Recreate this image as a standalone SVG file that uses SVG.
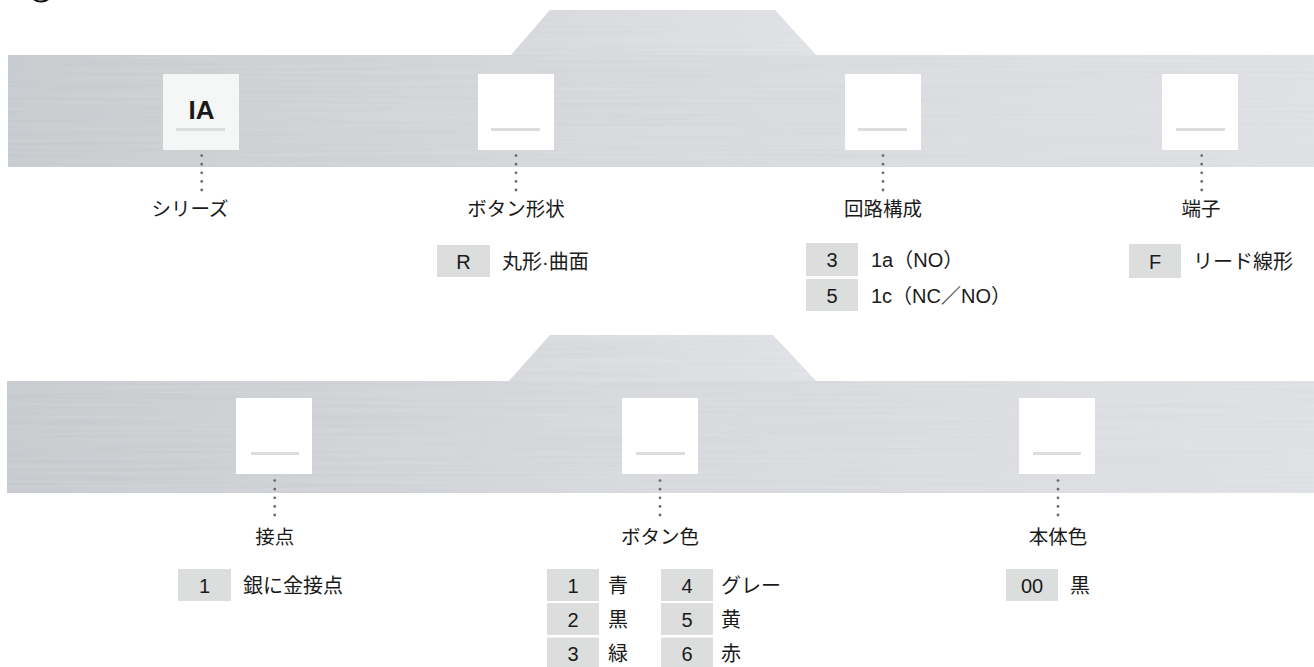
<svg xmlns="http://www.w3.org/2000/svg" width="1314" height="667" viewBox="0 0 1314 667">
<defs>
<linearGradient id="metal" x1="0" y1="0" x2="1" y2="0">
<stop offset="0" stop-color="#c3c6ca"/>
<stop offset="0.45" stop-color="#d3d5d9"/>
<stop offset="1" stop-color="#dcdee1"/>
</linearGradient>
<linearGradient id="metalTop" x1="0" y1="0" x2="1" y2="0">
<stop offset="0" stop-color="#d3d5d8"/>
<stop offset="1" stop-color="#dddfe2"/>
</linearGradient>
<filter id="brush" x="0" y="0" width="1" height="1">
<feTurbulence type="fractalNoise" baseFrequency="0.004 0.35" numOctaves="2" seed="3" result="n"/>
<feColorMatrix in="n" type="matrix" values="0 0 0 0 1  0 0 0 0 1  0 0 0 0 1  0 0 0 0.18 0" result="w"/>
<feComposite in="w" in2="SourceGraphic" operator="in" result="wm"/>
<feMerge><feMergeNode in="SourceGraphic"/><feMergeNode in="wm"/></feMerge>
</filter>
<style>
text{font-family:"Liberation Sans","Noto Sans CJK JP",sans-serif;fill:#1a1a1a}
.lbl{font-size:19.5px;text-anchor:middle}
.opt{font-size:20px}
.num{font-size:20px;text-anchor:middle}
.ul{stroke:#dcdddd;stroke-width:3}
.dot{stroke:#6a6a6a;stroke-width:2.8;stroke-linecap:round;stroke-dasharray:0 8.6;fill:none}
.cell{fill:#dcdddd}
</style>
</defs>

<circle cx="41" cy="-11" r="12.5" fill="none" stroke="#111" stroke-width="2"/>

<g id="band-top">
<path d="M510,56 L550,10 L775,10 L817,56 Z" fill="url(#metalTop)" filter="url(#brush)"/>
<rect x="8" y="55" width="1306" height="112" fill="url(#metal)" filter="url(#brush)"/>
</g>
<g id="band-bottom">
<path d="M508,382 L550,335 L773,335 L817,382 Z" fill="url(#metalTop)" filter="url(#brush)"/>
<rect x="7" y="381" width="1307" height="112" fill="url(#metal)" filter="url(#brush)"/>
</g>

<g id="connectors">
<line class="dot" x1="201.7" y1="147" x2="201.7" y2="191"/>
<line class="dot" x1="516" y1="147" x2="516" y2="191"/>
<line class="dot" x1="883" y1="147" x2="883" y2="191"/>
<line class="dot" x1="1201.7" y1="147" x2="1201.7" y2="191"/>
<line class="dot" x1="274.7" y1="472" x2="274.7" y2="516"/>
<line class="dot" x1="660" y1="472" x2="660" y2="516"/>
<line class="dot" x1="1058" y1="472" x2="1058" y2="516"/>
</g>

<g id="node-series">
<rect x="163" y="74" width="76" height="76" fill="#f5f6f6"/>
<text x="201.5" y="118.5" font-size="26" font-weight="bold" text-anchor="middle">IA</text>
<line class="ul" x1="176" y1="129.5" x2="225" y2="129.5"/>
<text class="lbl" x="190" y="215.5">シリーズ</text>
</g>

<g id="node-button-shape">
<rect x="478" y="74" width="76" height="76" fill="#ffffff"/>
<line class="ul" x1="491" y1="129.5" x2="540" y2="129.5"/>
<text class="lbl" x="516" y="215.5">ボタン形状</text>
<rect class="cell" x="437" y="245" width="53" height="32"/>
<text class="num" x="463.5" y="268.5">R</text>
<text class="opt" x="502" y="268.5">丸形·曲面</text>
</g>

<g id="node-circuit">
<rect x="845" y="74" width="76" height="76" fill="#ffffff"/>
<line class="ul" x1="858" y1="129.5" x2="907" y2="129.5"/>
<text class="lbl" x="883" y="215.5">回路構成</text>
<rect class="cell" x="806" y="243" width="52" height="33"/>
<text class="num" x="832" y="266.5">3</text>
<text class="opt" x="871" y="266.5">1a（NO）</text>
<rect class="cell" x="806" y="279" width="52" height="32"/>
<text class="num" x="832" y="302.5">5</text>
<text class="opt" x="871" y="302.5">1c（NC／NO）</text>
</g>

<g id="node-terminal">
<rect x="1162" y="74" width="76" height="76" fill="#ffffff"/>
<line class="ul" x1="1176" y1="129.5" x2="1225" y2="129.5"/>
<text class="lbl" x="1201" y="215.5">端子</text>
<rect class="cell" x="1129" y="244" width="52" height="34"/>
<text class="num" x="1155" y="268.5">F</text>
<text class="opt" x="1193" y="268.5">リード線形</text>
</g>

<g id="node-contact">
<rect x="236" y="398" width="76" height="76" fill="#ffffff"/>
<line class="ul" x1="251" y1="453.5" x2="299" y2="453.5"/>
<text class="lbl" x="274.7" y="543.5">接点</text>
<rect class="cell" x="178" y="569" width="53" height="32"/>
<text class="num" x="204.5" y="592.5">1</text>
<text class="opt" x="243" y="592.5">銀に金接点</text>
</g>

<g id="node-button-color">
<rect x="622" y="398" width="76" height="76" fill="#ffffff"/>
<line class="ul" x1="636" y1="453.5" x2="685" y2="453.5"/>
<text class="lbl" x="660" y="543.5">ボタン色</text>
<rect class="cell" x="547" y="569" width="52" height="32"/>
<text class="num" x="573" y="592.5">1</text>
<text class="opt" x="608" y="592.5">青</text>
<rect class="cell" x="547" y="603" width="52" height="32"/>
<text class="num" x="573" y="626.5">2</text>
<text class="opt" x="608" y="626.5">黒</text>
<rect class="cell" x="547" y="637.5" width="52" height="32"/>
<text class="num" x="573" y="660.5">3</text>
<text class="opt" x="608" y="660.5">緑</text>
<rect class="cell" x="661" y="569" width="52" height="32"/>
<text class="num" x="687" y="592.5">4</text>
<text class="opt" x="721" y="592.5">グレー</text>
<rect class="cell" x="661" y="603" width="52" height="32"/>
<text class="num" x="687" y="626.5">5</text>
<text class="opt" x="721" y="626.5">黄</text>
<rect class="cell" x="661" y="637.5" width="52" height="32"/>
<text class="num" x="687" y="660.5">6</text>
<text class="opt" x="721" y="660.5">赤</text>
</g>

<g id="node-body-color">
<rect x="1019" y="398" width="76" height="76" fill="#ffffff"/>
<line class="ul" x1="1033" y1="453.5" x2="1081" y2="453.5"/>
<text class="lbl" x="1058" y="543.5">本体色</text>
<rect class="cell" x="1006" y="569" width="52" height="32"/>
<text class="num" x="1032" y="592.5">00</text>
<text class="opt" x="1070" y="592.5">黒</text>
</g>
</svg>
